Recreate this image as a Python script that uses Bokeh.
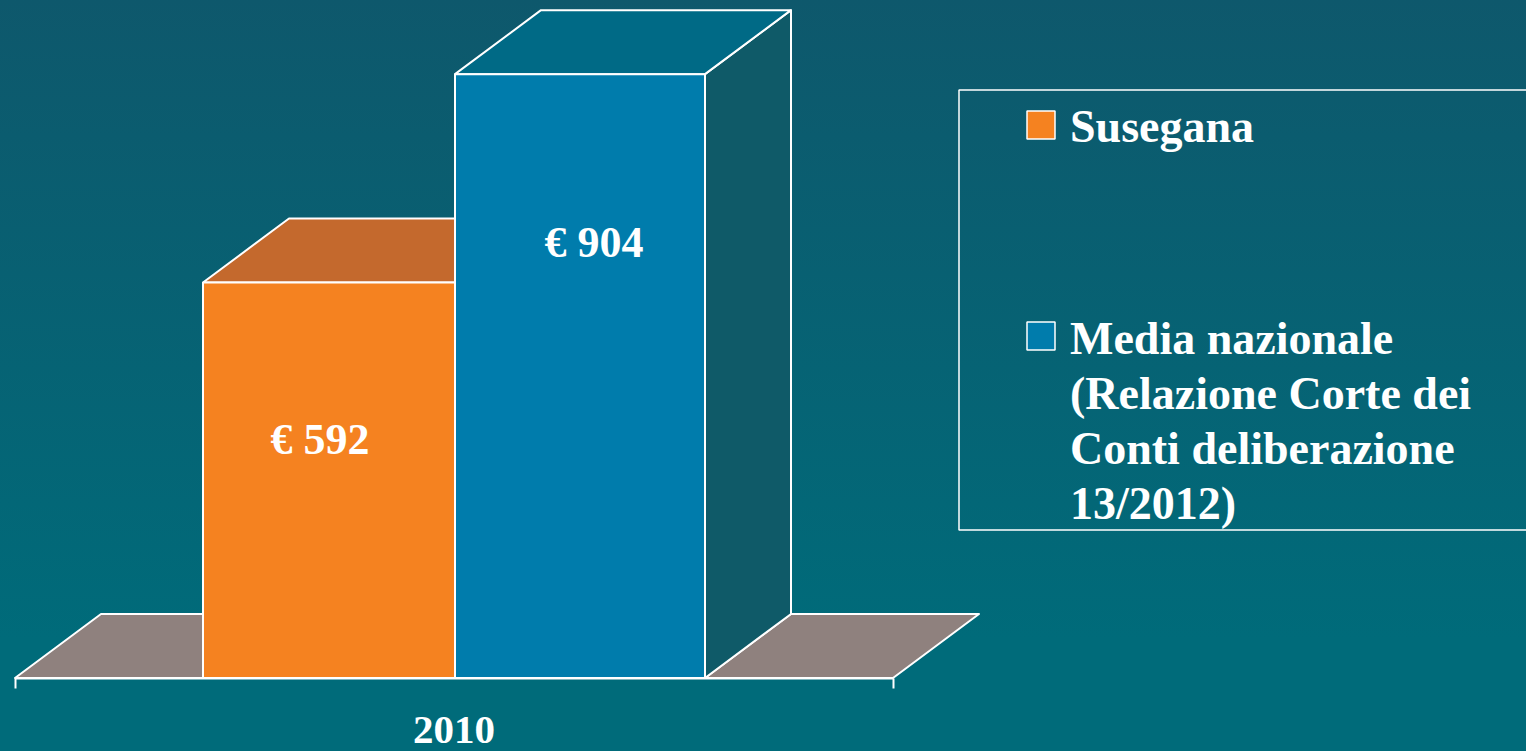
from bokeh.plotting import figure
from bokeh.models import Range1d, LinearAxis, FixedTicker
from bokeh.core.properties import value
from bokeh.embed import file_html
from bokeh.resources import INLINE

# --- data ---
categories = ["2010"]
series_names = ["Susegana", "Media nazionale"]
series_values = [592, 904]
value_labels = ["€ 592", "€ 904"]
legend_lines = [["Susegana"],
                ["Media nazionale", "(Relazione Corte dei", "Conti deliberazione", "13/2012)"]]

# --- layout ---
W, H = 1526, 751
BASE_PX = 678
PX_PER_UNIT = 0.668
DX = 86
DY = 64 / PX_PER_UNIT

def py(px):
    """vertical page pixel -> value scale"""
    return (BASE_PX - px) / PX_PER_UNIT

FONT = value("Liberation Serif")
WHITE = "#ffffff"
face_colors = ["#f58220", "#007cac"]
top_colors = ["#c4692d", "#006a86"]
SIDE = "#0f5a68"
FLOOR = "#8f817e"

p = figure(width=W, height=H, output_backend="svg", toolbar_location=None,
           x_range=Range1d(0.5, W + 0.5), y_range=Range1d(py(H + 0.5), py(0.5)),
           min_border=0, min_border_left=0, min_border_right=0,
           min_border_top=0, min_border_bottom=0, x_axis_type=None, y_axis_type=None)
p.grid.visible = False
p.outline_line_color = None
p.background_fill_alpha = 0
p.border_fill_alpha = 0

# floor
p.patches([[15, 15 + DX, 203, 203], [705, 705 + DX, 893 + DX, 893]],
          [[0, DY, DY, 0], [0, DY, DY, 0]],
          fill_color=FLOOR, line_color=WHITE, line_width=2, line_join="round")

# bars: front face, top, side
edges = [203, 455, 705]
v0, v1 = series_values
p.patch([edges[2], edges[2] + DX, edges[2] + DX, edges[2]], [0, DY, v1 + DY, v1],
        fill_color=SIDE, line_color=WHITE, line_width=2, line_join="round")
p.patch([edges[1], edges[1] + DX, edges[2] + DX, edges[2]], [v1, v1 + DY, v1 + DY, v1],
        fill_color=top_colors[1], line_color=WHITE, line_width=2, line_join="round")
p.patch([edges[0], edges[0] + DX, edges[1], edges[1]], [v0, v0 + DY, v0 + DY, v0],
        fill_color=top_colors[0], line_color=WHITE, line_width=2, line_join="round")
p.quad(left=edges[:2], right=edges[1:], bottom=[0, 0], top=series_values,
       fill_color=face_colors, line_color=WHITE, line_width=2)

# value labels
p.text(x=[320, 594], y=[py(439), py(242)], text=value_labels, text_color=WHITE,
       text_font=FONT, text_font_style="bold", text_font_size="44px",
       text_align="center", text_baseline="middle")

# axis
axis = LinearAxis(fixed_location=0, ticker=FixedTicker(ticks=[15, 893]), bounds=(15, 893))
axis.axis_line_color = WHITE
axis.axis_line_width = 2
axis.major_tick_line_color = WHITE
axis.major_tick_line_width = 2
axis.major_tick_in = 0
axis.major_tick_out = 10
axis.minor_tick_line_color = None
axis.major_label_text_color = None
axis.major_label_text_font_size = "1px"
p.add_layout(axis, "below")
p.text(x=[454], y=[py(730)], text=categories, text_color=WHITE,
       text_font=FONT, text_font_style="bold", text_font_size="41px",
       text_align="center", text_baseline="middle")

# legend
p.quad(left=[959], right=[W + 5], top=[py(90)], bottom=[py(530)], fill_alpha=0,
       line_color=WHITE, line_width=1.5)
p.quad(left=[1027, 1027], right=[1055, 1055], top=[py(111), py(322)], bottom=[py(139), py(350)],
       fill_color=face_colors, line_color=WHITE, line_width=1.5)
leg_x, leg_y, leg_t = [], [], []
for lines, first in zip(legend_lines, [126, 338]):
    for i, t in enumerate(lines):
        leg_x.append(1070)
        leg_y.append(py(first + 55.3 * i))
        leg_t.append(t)
p.text(x=leg_x, y=leg_y, text=leg_t, text_color=WHITE, text_font=FONT,
       text_font_style="bold", text_font_size="46px", text_align="left",
       text_baseline="alphabetic")

html = file_html(p, INLINE)
html = html.replace("</head>",
    "<style>html,body{margin:0;padding:0;height:751px;overflow:hidden;"
    "background:linear-gradient(180deg,#0e586c 0%,#006b7a 85%,#006b7a 100%);}</style></head>", 1)
open("out.html", "w").write(html)
